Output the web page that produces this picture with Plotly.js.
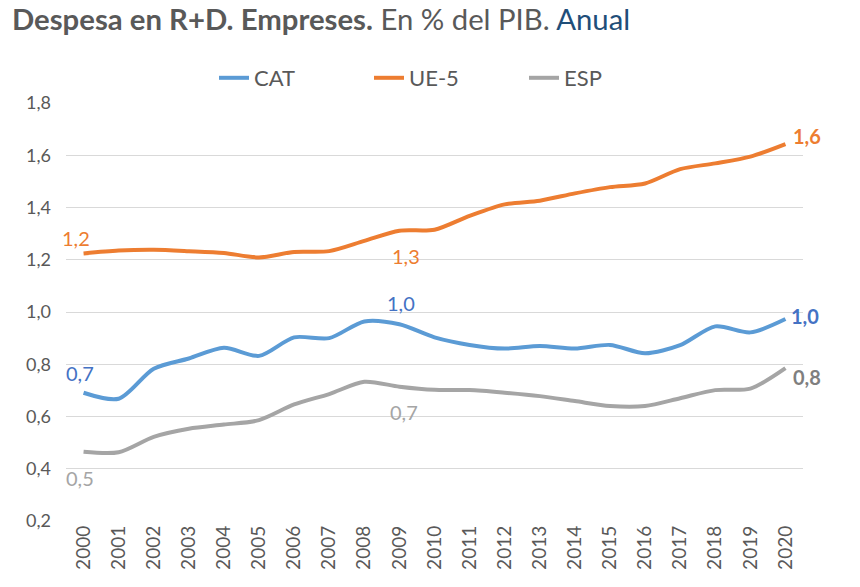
<!DOCTYPE html>
<html>
<head>
<meta charset="utf-8">
<script src="https://cdn.plot.ly/plotly-3.0.1.min.js"></script>
<style>
  html, body { margin: 0; padding: 0; background: #fff; }
  #chart { width: 860px; height: 587px; }
</style>
</head>
<body>
<div id="chart"></div>
<script>
// ---- Data ----
const years = [2000, 2001, 2002, 2003, 2004, 2005, 2006, 2007, 2008, 2009, 2010,
               2011, 2012, 2013, 2014, 2015, 2016, 2017, 2018, 2019, 2020];
const cat  = [0.691, 0.668, 0.783, 0.822, 0.863, 0.832, 0.903, 0.900, 0.964, 0.953, 0.903,
              0.874, 0.860, 0.870, 0.860, 0.874, 0.842, 0.873, 0.945, 0.922, 0.973];
const ue5  = [1.224, 1.235, 1.238, 1.233, 1.226, 1.209, 1.230, 1.233, 1.272, 1.311, 1.315,
              1.368, 1.412, 1.426, 1.454, 1.478, 1.492, 1.547, 1.569, 1.595, 1.643];
const esp  = [0.465, 0.463, 0.522, 0.553, 0.569, 0.586, 0.646, 0.686, 0.733, 0.714, 0.702,
              0.701, 0.691, 0.678, 0.659, 0.640, 0.640, 0.670, 0.701, 0.707, 0.785];
const seriesNames = ['CAT', 'UE-5', 'ESP'];
const yTicks = [0.2, 0.4, 0.6, 0.8, 1.0, 1.2, 1.4, 1.6, 1.8];
const labelYears = [2000, 2009, 2020];

// ---- Styles ----
const FONT = 'Lato, "Open Sans", sans-serif';
const TXT = '#595959';
const lineColors = ['#5B9BD5', '#ED7D31', '#A5A5A5'];
const labelColors = ['#4472C4', '#ED7D31', '#A5A5A5'];
const lastLabelColors = ['#4472C4', '#ED7D31', '#7F7F7F'];
const allSeries = [cat, ue5, esp];

const traces = allSeries.map((vals, i) => ({
  type: 'scatter',
  mode: 'lines',
  x: years,
  y: vals,
  name: seriesNames[i],
  line: { color: lineColors[i], width: 4, shape: 'spline', smoothing: 0.8 },
  hoverinfo: 'skip'
}));

function fmt(v) { return v.toFixed(1).replace('.', ','); }

// label offsets per series: [first, middle, last]  (pixel shifts)
const offsets = [
  [{ xs: -4, ys: 20, xa: 'center' }, { xs: 2, ys: 21, xa: 'center' }, { xs: 4, ys: 3, xa: 'left' }],
  [{ xs: -8, ys: 15, xa: 'center' }, { xs: 7, ys: -25, xa: 'center' }, { xs: 6, ys: 8, xa: 'left' }],
  [{ xs: -4, ys: -26, xa: 'center' }, { xs: 5, ys: -25, xa: 'center' }, { xs: 6, ys: -9, xa: 'left' }]
];

const annotations = [];
allSeries.forEach((vals, i) => {
  labelYears.forEach((yr, k) => {
    const idx = years.indexOf(yr);
    const last = k === labelYears.length - 1;
    const o = offsets[i][k];
    annotations.push({
      x: yr, y: vals[idx], xref: 'x', yref: 'y',
      text: last ? '<b>' + fmt(vals[idx]) + '</b>' : fmt(vals[idx]),
      showarrow: false,
      xanchor: o.xa, yanchor: 'middle',
      xshift: o.xs, yshift: o.ys,
      font: { family: FONT, size: 20, color: last ? lastLabelColors[i] : labelColors[i] }
    });
  });
});

const layout = {
  width: 860,
  height: 587,
  paper_bgcolor: '#fff',
  plot_bgcolor: '#fff',
  separators: ',.',
  margin: { l: 66, r: 57, t: 103, b: 66 },
  font: { family: FONT, color: TXT },
  title: {
    text: '<b>Despesa en R+D. Empreses.</b> En % del PIB. <span style="color:#1F4E79">Anual</span>',
    font: { family: FONT, size: 29.3, color: TXT },
    xref: 'container', yref: 'container',
    x: 12 / 860, xanchor: 'left',
    y: 1 - 20 / 587, yanchor: 'middle'
  },
  showlegend: true,
  legend: {
    orientation: 'h',
    x: (214 - 66) / 737, xanchor: 'left',
    y: 1 + 25 / 418, yanchor: 'middle',
    font: { family: FONT, size: 22, color: TXT },
    entrywidth: 110,
    entrywidthmode: 'pixels',
    tracegroupgap: 0,
    bgcolor: 'rgba(0,0,0,0)'
  },
  xaxis: {
    range: [1999.5, 2020.5],
    tickvals: years,
    ticktext: years.map(String),
    tickangle: -90,
    ticks: '',
    showgrid: false,
    zeroline: false,
    showline: false,
    tickfont: { family: FONT, size: 19, color: TXT },
    fixedrange: true
  },
  yaxis: {
    range: [0.2, 1.8],
    tickvals: yTicks,
    tickformat: '.1f',
    ticks: '',
    showgrid: true,
    gridcolor: '#D9D9D9',
    gridwidth: 1,
    zeroline: false,
    showline: false,
    ticklabelstandoff: 14,
    tickfont: { family: FONT, size: 18, color: TXT },
    fixedrange: true
  },
  annotations: annotations
};

Plotly.newPlot('chart', traces, layout, { displayModeBar: false, staticPlot: true });
</script>
</body>
</html>
